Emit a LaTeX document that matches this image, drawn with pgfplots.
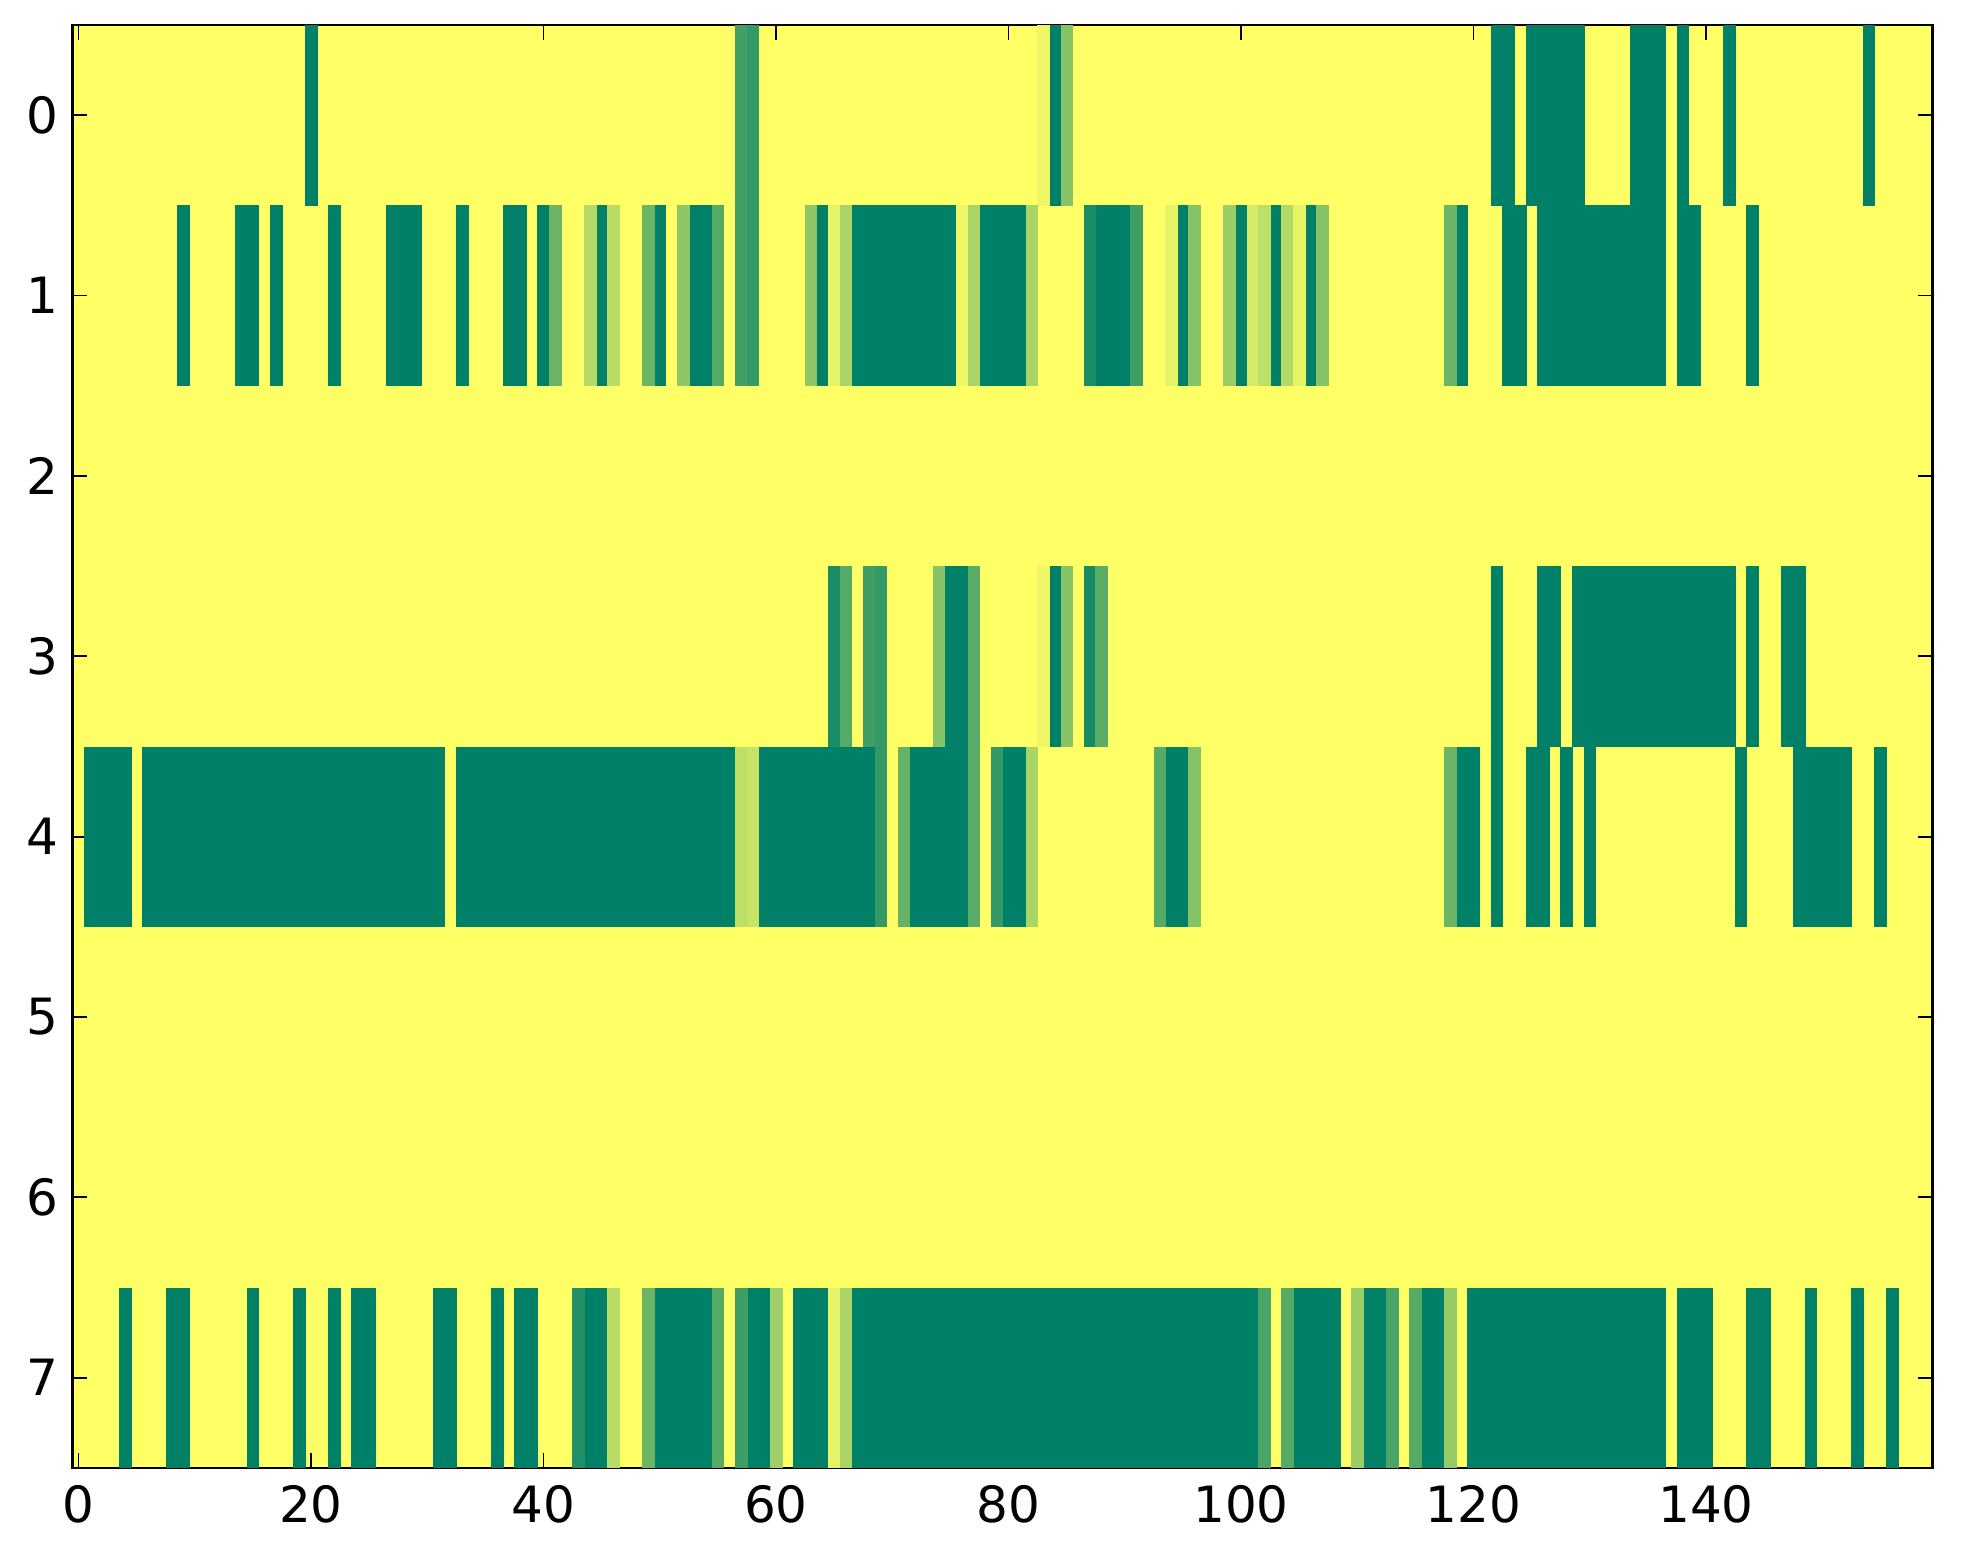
\documentclass[border=0pt]{standalone}
\usepackage{pgfplots}
\pgfplotsset{compat=1.18}
\usepackage{fontspec}
\setmainfont{DejaVu Sans}
\definecolor{sumdark}{rgb}{0,0.5,0.4}
\definecolor{sumyellow}{rgb}{1,1,0.4}
\begin{document}
\begin{tikzpicture}
\begin{axis}[
  scale only axis,
  width=465pt, height=360.75pt,
  xmin=-0.5, xmax=159.5,
  ymin=-0.5, ymax=7.5,
  y dir=reverse,
  xtick={0,20,...,140},
  ytick={0,1,...,7},
  tick align=inside,
  major tick length=3.7pt,
  every tick/.style={black, line width=0.45pt},
  axis line style={line width=0.65pt},
  axis on top,
  axis background/.style={fill=sumyellow},
  /pgf/number format/assume math mode=true,
  ticklabel style={font=\fontsize{12.5}{14}\selectfont},
  xticklabel style={yshift=-0.8pt},
  colormap={summer}{rgb=(0,0.5,0.4) rgb=(1,1,0.4)},
  point meta min=0, point meta max=1,
]
\coordinate (sw) at (axis description cs:0,0);
\coordinate (ne) at (axis description cs:1,1);
% value 0 cells
\addplot[only marks, mark=square*, mark size=1.45pt, mark options={draw=sumdark, fill=sumdark, line width=0.1pt, yscale=15.5}] coordinates {
(20,0) (84,0) (122,0) (123,0) (125,0) (126,0) (127,0) (128,0) (129,0) (134,0) (135,0) (136,0) (138,0) (142,0) (154,0)
(9,1) (14,1) (15,1) (17,1) (22,1) (27,1) (28,1) (29,1) (33,1) (37,1) (38,1) (40,1) (45,1) (50,1) (53,1) (54,1) (64,1)
(67,1) (68,1) (69,1) (70,1) (71,1) (72,1) (73,1) (74,1) (75,1) (78,1) (79,1) (80,1) (81,1) (88,1) (89,1) (90,1) (95,1)
(100,1) (103,1) (106,1) (119,1) (123,1) (124,1) (126,1) (127,1) (128,1) (129,1) (130,1) (131,1) (132,1) (133,1) (134,1)
(135,1) (136,1) (138,1) (139,1) (144,1)
(75,3) (76,3) (84,3) (122,3) (126,3) (127,3) (129,3) (130,3) (131,3) (132,3) (133,3) (134,3) (135,3) (136,3) (137,3)
(138,3) (139,3) (140,3) (141,3) (142,3) (144,3) (147,3) (148,3)
(1,4) (2,4) (3,4) (4,4)
(6,4) (7,4) (8,4) (9,4) (10,4) (11,4) (12,4) (13,4) (14,4) (15,4) (16,4) (17,4) (18,4) (19,4) (20,4) (21,4) (22,4)
(23,4) (24,4) (25,4) (26,4) (27,4) (28,4) (29,4) (30,4) (31,4)
(33,4) (34,4) (35,4) (36,4) (37,4) (38,4) (39,4) (40,4) (41,4) (42,4) (43,4) (44,4) (45,4) (46,4) (47,4) (48,4) (49,4)
(50,4) (51,4) (52,4) (53,4) (54,4) (55,4) (56,4)
(59,4) (60,4) (61,4) (62,4) (63,4) (64,4) (65,4) (66,4) (67,4) (68,4)
(72,4) (73,4) (74,4) (75,4) (76,4) (80,4) (81,4) (94,4) (95,4) (119,4) (120,4) (122,4) (125,4) (126,4) (128,4) (130,4)
(143,4) (148,4) (149,4) (150,4) (151,4) (152,4) (155,4)
(4,7) (8,7) (9,7) (15,7) (19,7) (22,7) (24,7) (25,7) (31,7) (32,7) (36,7) (38,7) (39,7) (44,7) (45,7)
(50,7) (51,7) (52,7) (53,7) (54,7) (58,7) (59,7) (62,7) (63,7) (64,7)
(67,7) (68,7) (69,7) (70,7) (71,7) (72,7) (73,7) (74,7) (75,7) (76,7) (77,7) (78,7) (79,7) (80,7) (81,7) (82,7) (83,7)
(84,7) (85,7) (86,7) (87,7) (88,7) (89,7) (90,7) (91,7) (92,7) (93,7) (94,7) (95,7) (96,7) (97,7) (98,7) (99,7) (100,7) (101,7)
(105,7) (106,7) (107,7) (108,7) (111,7) (112,7) (116,7) (117,7)
(120,7) (121,7) (122,7) (123,7) (124,7) (125,7) (126,7) (127,7) (128,7) (129,7) (130,7) (131,7) (132,7) (133,7) (134,7)
(135,7) (136,7) (138,7) (139,7) (140,7) (144,7) (145,7) (149,7) (153,7) (156,7)
};
% intermediate cells
\addplot[scatter, only marks, mark=square*, mark size=1.45pt, point meta=explicit,
  mark options={line width=0.1pt, yscale=15.5},
  scatter/use mapped color={draw=mapped color, fill=mapped color}] coordinates {
(57,0) [0.25] (58,0) [0.2] (83,0) [0.93] (85,0) [0.52]
(41,1) [0.42] (44,1) [0.7] (46,1) [0.72] (49,1) [0.42] (52,1) [0.55] (55,1) [0.33] (57,1) [0.25] (58,1) [0.2]
(63,1) [0.55] (65,1) [0.9] (66,1) [0.66] (76,1) [0.93] (77,1) [0.66] (82,1) [0.66] (87,1) [0.1] (91,1) [0.24]
(94,1) [0.9] (96,1) [0.52] (99,1) [0.6] (101,1) [0.83] (102,1) [0.74] (104,1) [0.7] (105,1) [0.9] (107,1) [0.52]
(118,1) [0.42]
(65,3) [0.1] (66,3) [0.33] (68,3) [0.24] (69,3) [0.2] (74,3) [0.52] (77,3) [0.35] (83,3) [0.93] (85,3) [0.52]
(87,3) [0.09] (88,3) [0.35]
(57,4) [0.74] (58,4) [0.78] (69,4) [0.2] (71,4) [0.4] (77,4) [0.35] (79,4) [0.2] (82,4) [0.66] (93,4) [0.33]
(96,4) [0.52] (118,4) [0.42]
(43,7) [0.13] (46,7) [0.72] (49,7) [0.42] (55,7) [0.33] (57,7) [0.24] (60,7) [0.62] (65,7) [0.9] (66,7) [0.66]
(102,7) [0.29] (104,7) [0.33] (110,7) [0.6] (113,7) [0.29] (115,7) [0.33] (118,7) [0.58]
};
\end{axis}
\path ([xshift=-18.175pt,yshift=-24pt]sw) rectangle ([xshift=7.6pt,yshift=6.25pt]ne);
\end{tikzpicture}
\end{document}
